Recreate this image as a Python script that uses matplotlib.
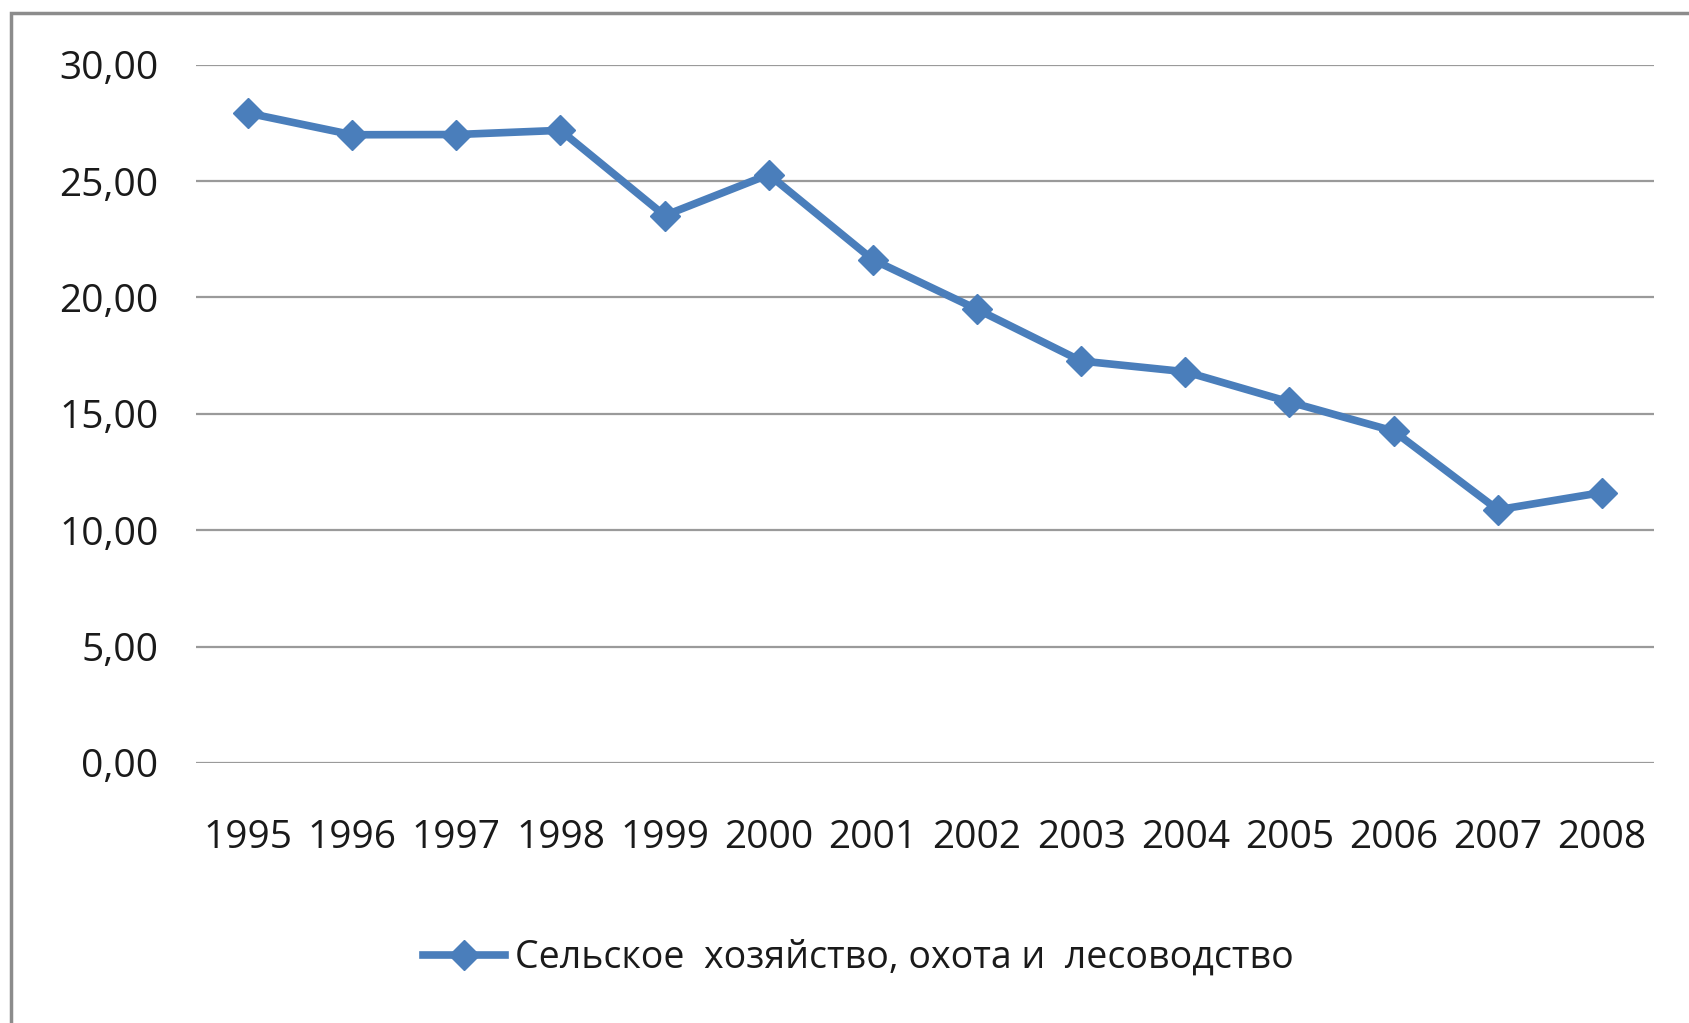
import matplotlib
matplotlib.use("Agg")
import matplotlib.pyplot as plt
from matplotlib.patches import Rectangle

years = ["1995", "1996", "1997", "1998", "1999", "2000", "2001",
         "2002", "2003", "2004", "2005", "2006", "2007", "2008"]
values = [27.92, 26.99, 27.0, 27.18, 23.52, 25.28, 21.62,
          19.49, 17.27, 16.81, 15.51, 14.26, 10.88, 11.62]
yticks = [0, 5, 10, 15, 20, 25, 30]
ytick_labels = ["0,00", "5,00", "10,00", "15,00", "20,00", "25,00", "30,00"]
series_name = "Сельское  хозяйство, охота и  лесоводство"

plt.rcParams['font.family'] = ['Open Sans', 'DejaVu Sans']

W, H = 1690, 1023
fig = plt.figure(figsize=(W / 100, H / 100), dpi=100)
fig.patch.set_facecolor("white")

# outer frame (right/bottom edges beyond the image)
fig.patches.append(Rectangle((11 / W, -0.1), 1.2, (H - 13) / H + 0.1,
                             transform=fig.transFigure, fill=False,
                             edgecolor="#8c8c8c", linewidth=2.5, zorder=0))

ax = fig.add_axes([196 / W, 1 - 763 / H, (1654 - 196) / W, (763 - 64.7) / H])
x = list(range(len(years)))
line, = ax.plot(x, values, color="#4a7ebb", linewidth=5.5, marker="D",
                markersize=15, markerfacecolor="#4a7ebb",
                markeredgecolor="#4a7ebb", label=series_name, zorder=3,
                solid_joinstyle="miter", clip_on=False)

ax.set_xlim(-0.5, len(years) - 0.5)
ax.set_ylim(0, 30)
ax.set_yticks(yticks)
ax.set_yticklabels(ytick_labels)
ax.set_xticks(x)
ax.set_xticklabels(years)
ax.tick_params(axis="both", length=0, labelsize=28, colors="#1a1a1a")
ax.tick_params(axis="y", pad=27)
ax.tick_params(axis="x", pad=40)
ax.yaxis.grid(True, color="#9a9a9a", linewidth=1.6)
ax.set_axisbelow(True)
for s in ax.spines.values():
    s.set_visible(False)

fig.legend(handles=[line], labels=[series_name], loc="center",
           bbox_to_anchor=(858 / W, 1 - 958 / H), frameon=False,
           fontsize=27, handlelength=2.2, handletextpad=0.25,
           labelcolor="#1a1a1a")

fig.savefig("out.png", dpi=100, facecolor="white")
